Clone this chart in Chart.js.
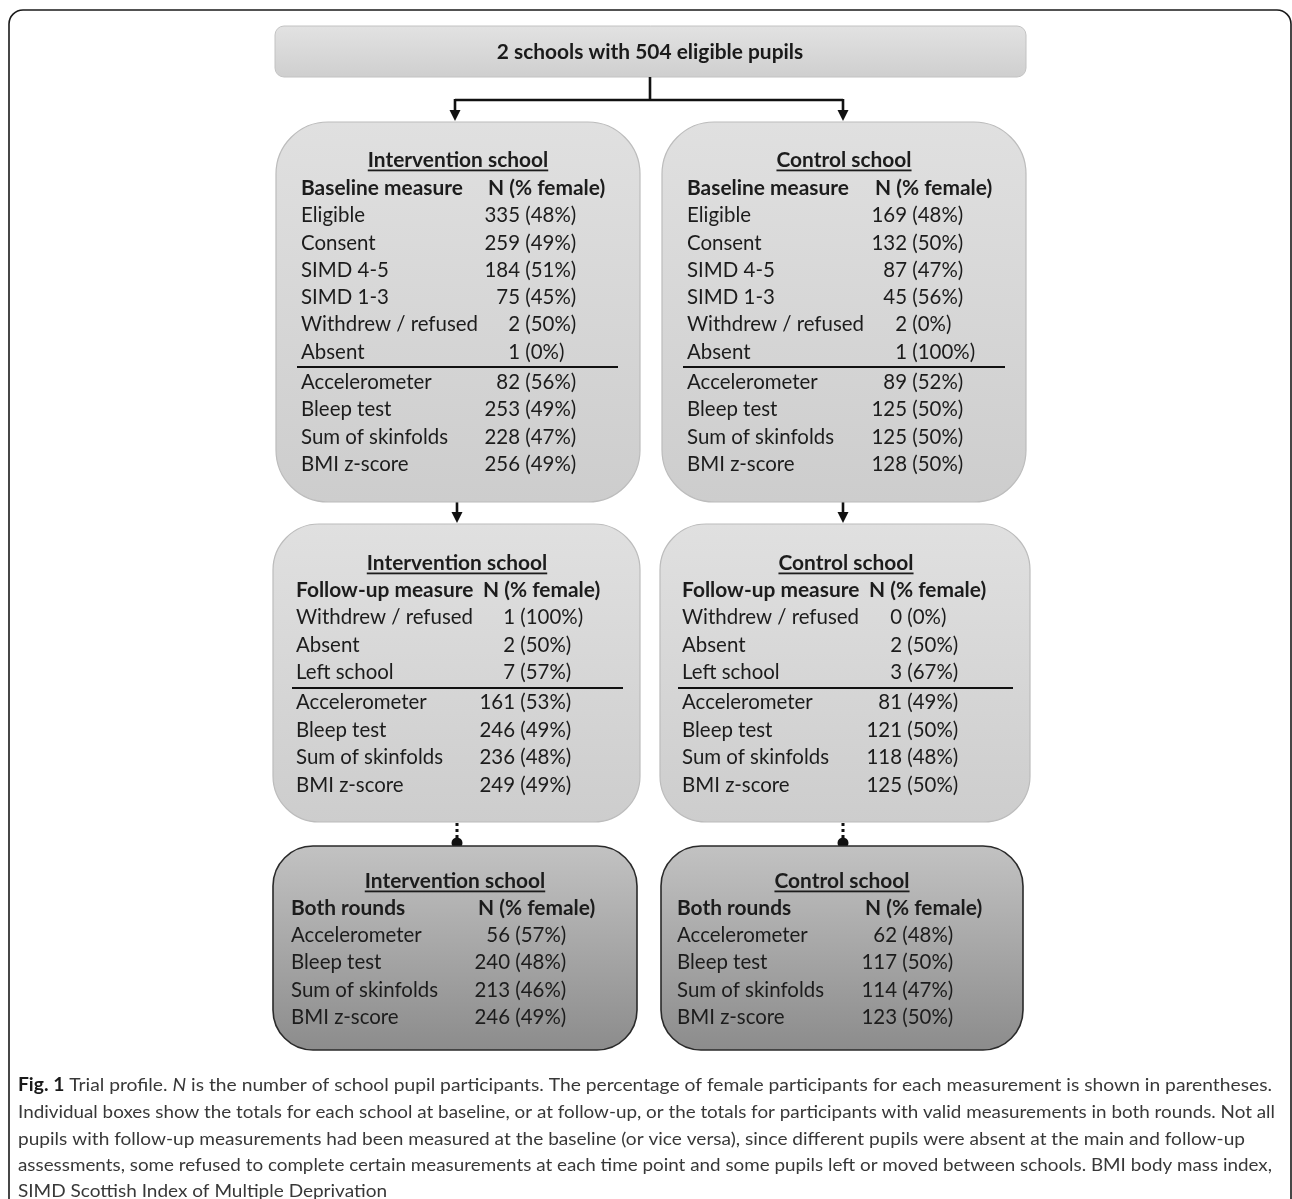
<!DOCTYPE html>
<html>
<head>
<meta charset="utf-8">
<script src="https://cdn.jsdelivr.net/npm/chart.js@4.4.1/dist/chart.umd.min.js"></script>
<style>
html,body{margin:0;padding:0;background:#fff;overflow:hidden;}
#wrap{width:1292px;height:1199px;position:relative;}
canvas{display:block;}
</style>
</head>
<body>
<div id="wrap"><canvas id="c" width="1292" height="1199"></canvas></div>
<script>
// ---------------- DATA ----------------
const topTitle = '2 schools with 504 eligible pupils';
const schools = ['Intervention school', 'Control school'];
const headerBaseline = 'Baseline measure';
const headerFollow = 'Follow-up measure';
const headerBoth = 'Both rounds';
const headerN = 'N (% female)';

const baselineLabels = ['Eligible', 'Consent', 'SIMD 4-5', 'SIMD 1-3', 'Withdrew / refused', 'Absent'];
const followLabels = ['Withdrew / refused', 'Absent', 'Left school'];
const measureLabels = ['Accelerometer', 'Bleep test', 'Sum of skinfolds', 'BMI z-score'];

const intBaseN = [335, 259, 184, 75, 2, 1];
const intBasePct = [48, 49, 51, 45, 50, 0];
const intBaseMeasN = [82, 253, 228, 256];
const intBaseMeasPct = [56, 49, 47, 49];

const ctlBaseN = [169, 132, 87, 45, 2, 1];
const ctlBasePct = [48, 50, 47, 56, 0, 100];
const ctlBaseMeasN = [89, 125, 125, 128];
const ctlBaseMeasPct = [52, 50, 50, 50];

const intFollowN = [1, 2, 7];
const intFollowPct = [100, 50, 57];
const intFollowMeasN = [161, 246, 236, 249];
const intFollowMeasPct = [53, 49, 48, 49];

const ctlFollowN = [0, 2, 3];
const ctlFollowPct = [0, 50, 67];
const ctlFollowMeasN = [81, 121, 118, 125];
const ctlFollowMeasPct = [49, 50, 48, 50];

const intBothN = [56, 240, 213, 246];
const intBothPct = [57, 48, 46, 49];
const ctlBothN = [62, 117, 114, 123];
const ctlBothPct = [48, 50, 47, 50];

const captionLines = [
  [['b','Fig. 1'],['r',' Trial profile. '],['i','N'],['r',' is the number of school pupil participants. The percentage of female participants for each measurement is shown in parentheses.']],
  [['r','Individual boxes show the totals for each school at baseline, or at follow-up, or the totals for participants with valid measurements in both rounds. Not all']],
  [['r','pupils with follow-up measurements had been measured at the baseline (or vice versa), since different pupils were absent at the main and follow-up']],
  [['r','assessments, some refused to complete certain measurements at each time point and some pupils left or moved between schools. BMI body mass index,']],
  [['r','SIMD Scottish Index of Multiple Deprivation']]
];

// ---------------- LAYOUT ----------------
const FONT = 'Lato';
const BASE_ROWS = [215, 243, 270, 297, 324, 352];
const BASE_MEAS = [382, 409, 437, 464];
const FOL_ROWS = [617, 645, 672];
const FOL_MEAS = [702, 730, 757, 785];
const BOTH_MEAS = [935, 962, 990, 1017];

function rowsOf(labels, ns, pcts, ys){
  return labels.map((l,i)=>({label:l, n:ns[i], pct:pcts[i], y:ys[i]}));
}

const panels = [
  {box:[276,122,640,502], r:52, dark:false, title:schools[0], tx:458, ty:160, header:headerBaseline, hy:188, lx:301, nx:488, ne:520,
   rows:rowsOf(baselineLabels,intBaseN,intBasePct,BASE_ROWS).concat(rowsOf(measureLabels,intBaseMeasN,intBaseMeasPct,BASE_MEAS)), rule:[297,618,367]},
  {box:[662,122,1026,502], r:52, dark:false, title:schools[1], tx:844, ty:160, header:headerBaseline, hy:188, lx:687, nx:875, ne:907,
   rows:rowsOf(baselineLabels,ctlBaseN,ctlBasePct,BASE_ROWS).concat(rowsOf(measureLabels,ctlBaseMeasN,ctlBaseMeasPct,BASE_MEAS)), rule:[683,1005,367]},
  {box:[273,524,640,822], r:46, dark:false, title:schools[0], tx:457, ty:563, header:headerFollow, hy:590, lx:296, nx:483, ne:515,
   rows:rowsOf(followLabels,intFollowN,intFollowPct,FOL_ROWS).concat(rowsOf(measureLabels,intFollowMeasN,intFollowMeasPct,FOL_MEAS)), rule:[292,623,688]},
  {box:[660,524,1030,822], r:46, dark:false, title:schools[1], tx:846, ty:563, header:headerFollow, hy:590, lx:682, nx:869, ne:902,
   rows:rowsOf(followLabels,ctlFollowN,ctlFollowPct,FOL_ROWS).concat(rowsOf(measureLabels,ctlFollowMeasN,ctlFollowMeasPct,FOL_MEAS)), rule:[678,1013,688]},
  {box:[273,846,637,1050], r:40, dark:true, title:schools[0], tx:455, ty:881, header:headerBoth, hy:908, lx:291, nx:478, ne:510,
   rows:rowsOf(measureLabels,intBothN,intBothPct,BOTH_MEAS), rule:null},
  {box:[661,846,1023,1050], r:40, dark:true, title:schools[1], tx:842, ty:881, header:headerBoth, hy:908, lx:677, nx:865, ne:897,
   rows:rowsOf(measureLabels,ctlBothN,ctlBothPct,BOTH_MEAS), rule:null}
];

const captionY = [1085, 1112, 1139, 1165, 1191];
const captionX0 = 18;
const captionX1 = [1272, 1275, 1245, 1272, null];

// ---------------- DRAWING PLUGIN ----------------
const flowPlugin = {
  id: 'flow',
  afterDraw(chart){
    const ctx = chart.ctx;
    const X = v => chart.scales.x.getPixelForValue(v);
    const Y = v => chart.scales.y.getPixelForValue(v);

    function rr(x0,y0,x1,y1,r){
      ctx.beginPath();
      ctx.moveTo(x0+r,y0);
      ctx.lineTo(x1-r,y0);
      ctx.arcTo(x1,y0,x1,y0+r,r);
      ctx.lineTo(x1,y1-r);
      ctx.arcTo(x1,y1,x1-r,y1,r);
      ctx.lineTo(x0+r,y1);
      ctx.arcTo(x0,y1,x0,y1-r,r);
      ctx.lineTo(x0,y0+r);
      ctx.arcTo(x0,y0,x0+r,y0,r);
      ctx.closePath();
    }
    const SZ = 20.5;
    const fR = `${SZ}px ${FONT}`, fB = `bold ${SZ}px ${FONT}`;
    ctx.font = fR; const kR = 147 / ctx.measureText('Sum of skinfolds').width;
    ctx.font = fB; const kB = 162 / ctx.measureText('Baseline measure').width;

    function txt(s, x, y, font, k, align){
      ctx.font = font;
      const w = ctx.measureText(s).width * k;
      let sx = x;
      if (align === 'center') sx = x - w/2;
      else if (align === 'right') sx = x - w;
      ctx.save();
      ctx.translate(sx, y);
      ctx.scale(k, 1);
      ctx.fillText(s, 0, 0);
      ctx.restore();
      return {x:sx, w:w};
    }

    ctx.save();
    ctx.textBaseline = 'middle';

    // outer frame
    ctx.strokeStyle = '#1a1a1a';
    ctx.lineWidth = 1.6;
    rr(X(9),Y(10),X(1291),Y(1260),14);
    ctx.stroke();

    // top box
    let g = ctx.createLinearGradient(0,Y(26),0,Y(77));
    g.addColorStop(0,'#e2e2e2'); g.addColorStop(1,'#cfcfcf');
    rr(X(275),Y(26),X(1026),Y(77),9);
    ctx.fillStyle = g; ctx.fill();
    ctx.strokeStyle = '#c2c2c2'; ctx.lineWidth = 1; ctx.stroke();
    ctx.fillStyle = '#1a1a1a';
    txt(topTitle, X(650), Y(52), fB, kB, 'center');

    // connectors
    ctx.strokeStyle = '#111'; ctx.fillStyle = '#111'; ctx.lineWidth = 2.6;
    ctx.beginPath();
    ctx.moveTo(X(650),Y(77)); ctx.lineTo(X(650),Y(100));
    ctx.moveTo(X(455),Y(100)); ctx.lineTo(X(843),Y(100));
    ctx.moveTo(X(455),Y(99)); ctx.lineTo(X(455),Y(112));
    ctx.moveTo(X(843),Y(99)); ctx.lineTo(X(843),Y(112));
    ctx.moveTo(X(457),Y(502)); ctx.lineTo(X(457),Y(514));
    ctx.moveTo(X(843),Y(502)); ctx.lineTo(X(843),Y(514));
    ctx.stroke();
    function arrowHead(x, yTip){
      ctx.beginPath();
      ctx.moveTo(X(x),Y(yTip));
      ctx.lineTo(X(x-5.5),Y(yTip-11));
      ctx.lineTo(X(x+5.5),Y(yTip-11));
      ctx.closePath(); ctx.fill();
    }
    arrowHead(455,121); arrowHead(843,121);
    arrowHead(457,523); arrowHead(843,523);
    // dotted connectors
    ctx.lineWidth = 3;
    ctx.setLineDash([3,3]);
    ctx.beginPath();
    ctx.moveTo(X(457),Y(823)); ctx.lineTo(X(457),Y(840));
    ctx.moveTo(X(843),Y(823)); ctx.lineTo(X(843),Y(840));
    ctx.stroke();
    ctx.setLineDash([]);
    [457,843].forEach(x=>{ ctx.beginPath(); ctx.arc(X(x),Y(843),5.5,0,Math.PI*2); ctx.fill(); });

    // panels
    panels.forEach(p=>{
      const [x0,y0,x1,y1] = p.box;
      const gr = ctx.createLinearGradient(0,Y(y0),0,Y(y1));
      if (p.dark){ gr.addColorStop(0,'#c2c2c2'); gr.addColorStop(1,'#8c8c8c'); }
      else { gr.addColorStop(0,'#e0e0e0'); gr.addColorStop(1,'#cdcdcd'); }
      rr(X(x0),Y(y0),X(x1),Y(y1),p.r);
      ctx.fillStyle = gr; ctx.fill();
      ctx.strokeStyle = p.dark ? '#2a2a2a' : '#bcbcbc';
      ctx.lineWidth = p.dark ? 1.6 : 1.2;
      ctx.stroke();

      ctx.fillStyle = '#1c1c1c';
      const t = txt(p.title, X(p.tx), Y(p.ty), fB, kB, 'center');
      ctx.fillRect(t.x, Y(p.ty)+9.5, t.w, 1.8);
      txt(p.header, X(p.lx), Y(p.hy), fB, kB, 'left');
      txt(headerN, X(p.nx), Y(p.hy), fB, kB, 'left');
      ctx.font = fR;
      const sp = ctx.measureText(' ').width * kR;
      p.rows.forEach(r=>{
        txt(r.label, X(p.lx), Y(r.y), fR, kR, 'left');
        txt(String(r.n), X(p.ne), Y(r.y), fR, kR, 'right');
        txt('(' + r.pct + '%)', X(p.ne)+sp, Y(r.y), fR, kR, 'left');
      });
      if (p.rule){
        ctx.fillStyle = '#111';
        ctx.fillRect(X(p.rule[0]), Y(p.rule[2])-1, X(p.rule[1])-X(p.rule[0]), 2);
      }
    });

    // caption
    const CS = 18;
    const cf = {b:`bold ${CS}px ${FONT}`, r:`${CS}px ${FONT}`, i:`italic ${CS}px ${FONT}`};
    ctx.textBaseline = 'middle';
    let kSum = 0, kCnt = 0;
    const widths = captionLines.map(segs=>{
      let total = 0;
      segs.forEach(s=>{ ctx.font = cf[s[0]]; total += ctx.measureText(s[1]).width; });
      return total;
    });
    captionLines.forEach((segs, li)=>{
      if (captionX1[li] !== null){ kSum += (X(captionX1[li]) - X(captionX0)) / widths[li]; kCnt++; }
    });
    const kAvg = kSum / kCnt;
    captionLines.forEach((segs, li)=>{
      const k = captionX1[li] !== null ? (X(captionX1[li]) - X(captionX0)) / widths[li] : kAvg;
      ctx.save();
      ctx.translate(X(captionX0), Y(captionY[li]));
      ctx.scale(k,1);
      let cx = 0;
      segs.forEach(s=>{
        ctx.font = cf[s[0]];
        ctx.fillStyle = s[0]==='b' ? '#1a1a1a' : '#383838';
        ctx.fillText(s[1], cx, 0);
        cx += ctx.measureText(s[1]).width;
      });
      ctx.restore();
    });

    ctx.restore();
  }
};

new Chart(document.getElementById('c'), {
  type: 'scatter',
  data: { datasets: [{ data: [], pointRadius: 0 }] },
  options: {
    responsive: false,
    animation: false,
    layout: { padding: 0 },
    plugins: { legend: { display: false }, tooltip: { enabled: false } },
    scales: {
      x: { type: 'linear', min: 0, max: 1292, display: false },
      y: { type: 'linear', min: 0, max: 1199, reverse: true, display: false }
    }
  },
  plugins: [flowPlugin]
});
</script>
</body>
</html>
